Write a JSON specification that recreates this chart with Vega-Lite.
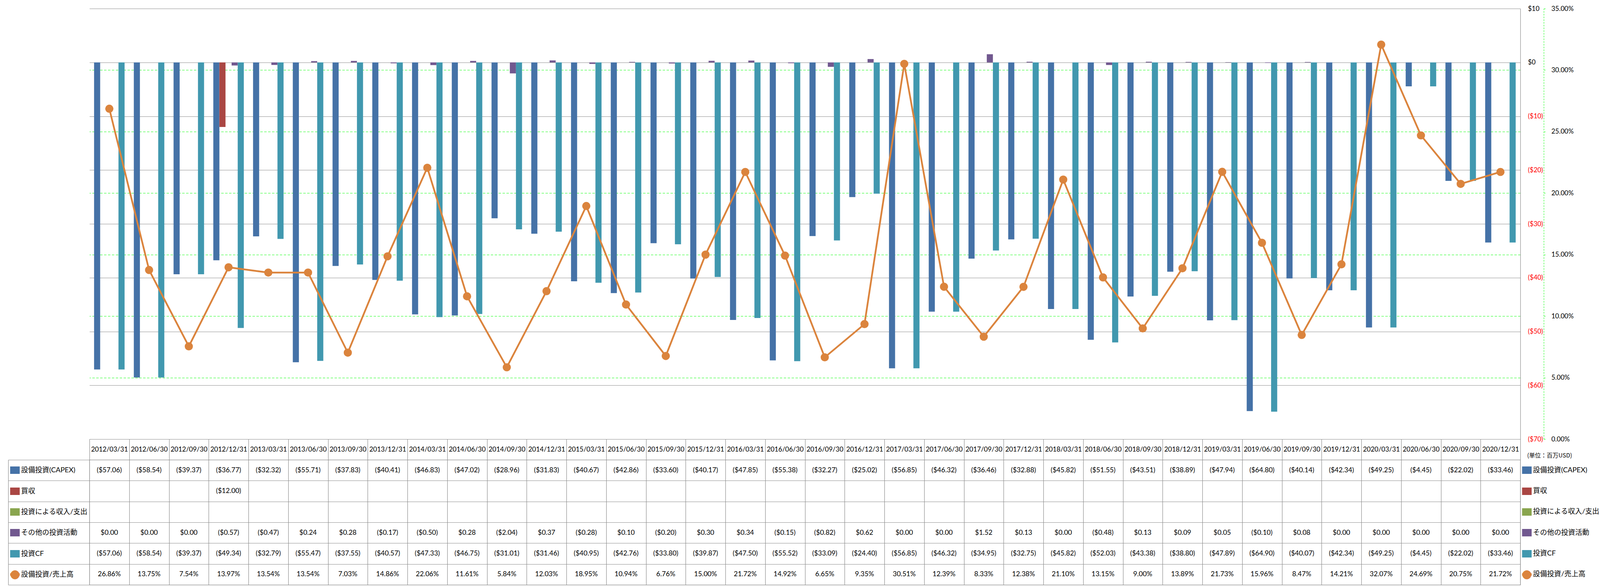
{
  "$schema": "https://vega.github.io/schema/vega-lite/v6.json",
  "background": "white",
  "padding": {"left": 15, "top": 13, "right": 4, "bottom": 2},
  "bounds": "flush",
  "spacing": 53,
  "config": {"view": {"stroke": null}, "font": "Lato"},
  "datasets": {
    "cf": [
      {"date":"2012/03/31","series":"設備投資(CAPEX)","value":-57.06},
      {"date":"2012/06/30","series":"設備投資(CAPEX)","value":-58.54},
      {"date":"2012/09/30","series":"設備投資(CAPEX)","value":-39.37},
      {"date":"2012/12/31","series":"設備投資(CAPEX)","value":-36.77},
      {"date":"2013/03/31","series":"設備投資(CAPEX)","value":-32.32},
      {"date":"2013/06/30","series":"設備投資(CAPEX)","value":-55.71},
      {"date":"2013/09/30","series":"設備投資(CAPEX)","value":-37.83},
      {"date":"2013/12/31","series":"設備投資(CAPEX)","value":-40.41},
      {"date":"2014/03/31","series":"設備投資(CAPEX)","value":-46.83},
      {"date":"2014/06/30","series":"設備投資(CAPEX)","value":-47.02},
      {"date":"2014/09/30","series":"設備投資(CAPEX)","value":-28.96},
      {"date":"2014/12/31","series":"設備投資(CAPEX)","value":-31.83},
      {"date":"2015/03/31","series":"設備投資(CAPEX)","value":-40.67},
      {"date":"2015/06/30","series":"設備投資(CAPEX)","value":-42.86},
      {"date":"2015/09/30","series":"設備投資(CAPEX)","value":-33.60},
      {"date":"2015/12/31","series":"設備投資(CAPEX)","value":-40.17},
      {"date":"2016/03/31","series":"設備投資(CAPEX)","value":-47.85},
      {"date":"2016/06/30","series":"設備投資(CAPEX)","value":-55.38},
      {"date":"2016/09/30","series":"設備投資(CAPEX)","value":-32.27},
      {"date":"2016/12/31","series":"設備投資(CAPEX)","value":-25.02},
      {"date":"2017/03/31","series":"設備投資(CAPEX)","value":-56.85},
      {"date":"2017/06/30","series":"設備投資(CAPEX)","value":-46.32},
      {"date":"2017/09/30","series":"設備投資(CAPEX)","value":-36.46},
      {"date":"2017/12/31","series":"設備投資(CAPEX)","value":-32.88},
      {"date":"2018/03/31","series":"設備投資(CAPEX)","value":-45.82},
      {"date":"2018/06/30","series":"設備投資(CAPEX)","value":-51.55},
      {"date":"2018/09/30","series":"設備投資(CAPEX)","value":-43.51},
      {"date":"2018/12/31","series":"設備投資(CAPEX)","value":-38.89},
      {"date":"2019/03/31","series":"設備投資(CAPEX)","value":-47.94},
      {"date":"2019/06/30","series":"設備投資(CAPEX)","value":-64.80},
      {"date":"2019/09/30","series":"設備投資(CAPEX)","value":-40.14},
      {"date":"2019/12/31","series":"設備投資(CAPEX)","value":-42.34},
      {"date":"2020/03/31","series":"設備投資(CAPEX)","value":-49.25},
      {"date":"2020/06/30","series":"設備投資(CAPEX)","value":-4.45},
      {"date":"2020/09/30","series":"設備投資(CAPEX)","value":-22.02},
      {"date":"2020/12/31","series":"設備投資(CAPEX)","value":-33.46},
      {"date":"2012/12/31","series":"買収","value":-12.00},
      {"date":"2012/03/31","series":"その他の投資活動","value":0},
      {"date":"2012/06/30","series":"その他の投資活動","value":0},
      {"date":"2012/09/30","series":"その他の投資活動","value":0},
      {"date":"2012/12/31","series":"その他の投資活動","value":-0.57},
      {"date":"2013/03/31","series":"その他の投資活動","value":-0.47},
      {"date":"2013/06/30","series":"その他の投資活動","value":0.24},
      {"date":"2013/09/30","series":"その他の投資活動","value":0.28},
      {"date":"2013/12/31","series":"その他の投資活動","value":-0.17},
      {"date":"2014/03/31","series":"その他の投資活動","value":-0.50},
      {"date":"2014/06/30","series":"その他の投資活動","value":0.28},
      {"date":"2014/09/30","series":"その他の投資活動","value":-2.04},
      {"date":"2014/12/31","series":"その他の投資活動","value":0.37},
      {"date":"2015/03/31","series":"その他の投資活動","value":-0.28},
      {"date":"2015/06/30","series":"その他の投資活動","value":0.10},
      {"date":"2015/09/30","series":"その他の投資活動","value":-0.20},
      {"date":"2015/12/31","series":"その他の投資活動","value":0.30},
      {"date":"2016/03/31","series":"その他の投資活動","value":0.34},
      {"date":"2016/06/30","series":"その他の投資活動","value":-0.15},
      {"date":"2016/09/30","series":"その他の投資活動","value":-0.82},
      {"date":"2016/12/31","series":"その他の投資活動","value":0.62},
      {"date":"2017/03/31","series":"その他の投資活動","value":0},
      {"date":"2017/06/30","series":"その他の投資活動","value":0},
      {"date":"2017/09/30","series":"その他の投資活動","value":1.52},
      {"date":"2017/12/31","series":"その他の投資活動","value":0.13},
      {"date":"2018/03/31","series":"その他の投資活動","value":0},
      {"date":"2018/06/30","series":"その他の投資活動","value":-0.48},
      {"date":"2018/09/30","series":"その他の投資活動","value":0.13},
      {"date":"2018/12/31","series":"その他の投資活動","value":0.09},
      {"date":"2019/03/31","series":"その他の投資活動","value":0.05},
      {"date":"2019/06/30","series":"その他の投資活動","value":-0.10},
      {"date":"2019/09/30","series":"その他の投資活動","value":0.08},
      {"date":"2019/12/31","series":"その他の投資活動","value":0},
      {"date":"2020/03/31","series":"その他の投資活動","value":0},
      {"date":"2020/06/30","series":"その他の投資活動","value":0},
      {"date":"2020/09/30","series":"その他の投資活動","value":0},
      {"date":"2020/12/31","series":"その他の投資活動","value":0},
      {"date":"2012/03/31","series":"投資CF","value":-57.06},
      {"date":"2012/06/30","series":"投資CF","value":-58.54},
      {"date":"2012/09/30","series":"投資CF","value":-39.37},
      {"date":"2012/12/31","series":"投資CF","value":-49.34},
      {"date":"2013/03/31","series":"投資CF","value":-32.79},
      {"date":"2013/06/30","series":"投資CF","value":-55.47},
      {"date":"2013/09/30","series":"投資CF","value":-37.55},
      {"date":"2013/12/31","series":"投資CF","value":-40.57},
      {"date":"2014/03/31","series":"投資CF","value":-47.33},
      {"date":"2014/06/30","series":"投資CF","value":-46.75},
      {"date":"2014/09/30","series":"投資CF","value":-31.01},
      {"date":"2014/12/31","series":"投資CF","value":-31.46},
      {"date":"2015/03/31","series":"投資CF","value":-40.95},
      {"date":"2015/06/30","series":"投資CF","value":-42.76},
      {"date":"2015/09/30","series":"投資CF","value":-33.80},
      {"date":"2015/12/31","series":"投資CF","value":-39.87},
      {"date":"2016/03/31","series":"投資CF","value":-47.50},
      {"date":"2016/06/30","series":"投資CF","value":-55.52},
      {"date":"2016/09/30","series":"投資CF","value":-33.09},
      {"date":"2016/12/31","series":"投資CF","value":-24.40},
      {"date":"2017/03/31","series":"投資CF","value":-56.85},
      {"date":"2017/06/30","series":"投資CF","value":-46.32},
      {"date":"2017/09/30","series":"投資CF","value":-34.95},
      {"date":"2017/12/31","series":"投資CF","value":-32.75},
      {"date":"2018/03/31","series":"投資CF","value":-45.82},
      {"date":"2018/06/30","series":"投資CF","value":-52.03},
      {"date":"2018/09/30","series":"投資CF","value":-43.38},
      {"date":"2018/12/31","series":"投資CF","value":-38.80},
      {"date":"2019/03/31","series":"投資CF","value":-47.89},
      {"date":"2019/06/30","series":"投資CF","value":-64.90},
      {"date":"2019/09/30","series":"投資CF","value":-40.07},
      {"date":"2019/12/31","series":"投資CF","value":-42.34},
      {"date":"2020/03/31","series":"投資CF","value":-49.25},
      {"date":"2020/06/30","series":"投資CF","value":-4.45},
      {"date":"2020/09/30","series":"投資CF","value":-22.02},
      {"date":"2020/12/31","series":"投資CF","value":-33.46}
    ],
    "ratio": [
      {"date":"2012/03/31","ratio":0.2686},{"date":"2012/06/30","ratio":0.1375},{"date":"2012/09/30","ratio":0.0754},{"date":"2012/12/31","ratio":0.1397},
      {"date":"2013/03/31","ratio":0.1354},{"date":"2013/06/30","ratio":0.1354},{"date":"2013/09/30","ratio":0.0703},{"date":"2013/12/31","ratio":0.1486},
      {"date":"2014/03/31","ratio":0.2206},{"date":"2014/06/30","ratio":0.1161},{"date":"2014/09/30","ratio":0.0584},{"date":"2014/12/31","ratio":0.1203},
      {"date":"2015/03/31","ratio":0.1895},{"date":"2015/06/30","ratio":0.1094},{"date":"2015/09/30","ratio":0.0676},{"date":"2015/12/31","ratio":0.1500},
      {"date":"2016/03/31","ratio":0.2172},{"date":"2016/06/30","ratio":0.1492},{"date":"2016/09/30","ratio":0.0665},{"date":"2016/12/31","ratio":0.0935},
      {"date":"2017/03/31","ratio":0.3051},{"date":"2017/06/30","ratio":0.1239},{"date":"2017/09/30","ratio":0.0833},{"date":"2017/12/31","ratio":0.1238},
      {"date":"2018/03/31","ratio":0.2110},{"date":"2018/06/30","ratio":0.1315},{"date":"2018/09/30","ratio":0.0900},{"date":"2018/12/31","ratio":0.1389},
      {"date":"2019/03/31","ratio":0.2173},{"date":"2019/06/30","ratio":0.1596},{"date":"2019/09/30","ratio":0.0847},{"date":"2019/12/31","ratio":0.1421},
      {"date":"2020/03/31","ratio":0.3207},{"date":"2020/06/30","ratio":0.2469},{"date":"2020/09/30","ratio":0.2075},{"date":"2020/12/31","ratio":0.2172}
    ]
  },
  "vconcat": [
    {
      "width": 3663,
      "height": 1102,
      "encoding": {
        "x": {
          "field": "date", "type": "nominal",
          "scale": {"type": "band", "paddingInner": 0, "paddingOuter": 0},
          "axis": {
            "orient": "bottom",
            "title": "(単位：百万USD)",
            "titleX": 3680, "titleY": 41,
            "titleAlign": "left", "titleBaseline": "middle", "titleAngle": 0,
            "titleFont": "Noto Sans CJK JP", "titleFontSize": 15, "titleFontWeight": "normal", "titleColor": "#000000",
            "labelAngle": 0, "labelFont": "Lato", "labelFontSize": 17, "labelColor": "#000000",
            "labelBaseline": "middle", "labelPadding": -26.5,
            "labelOverlap": false, "labelBound": false, "labelFlush": false,
            "ticks": true, "tickBand": "extent", "tickSize": 53.3, "tickColor": "#8e8e8e", "tickWidth": 1.2,
            "domain": true, "domainColor": "#8e8e8e", "domainWidth": 1.2,
            "grid": false
          }
        }
      },
      "layer": [
        {
          "data": {"name": "cf"},
          "mark": {"type": "bar"},
          "encoding": {
            "xOffset": {
              "field": "series", "type": "nominal",
              "scale": {"domain": ["設備投資(CAPEX)", "買収", "投資による収入/支出", "その他の投資活動", "投資CF"], "paddingInner": 0, "paddingOuter": 0.757}
            },
            "y": {
              "field": "value", "type": "quantitative",
              "scale": {"domain": [-70, 10], "nice": false, "zero": false},
              "axis": {
                "orient": "right", "title": null,
                "values": [-70, -60, -50, -40, -30, -20, -10, 0, 10],
                "format": "($.0f",
                "labelColor": {"condition": {"test": "datum.value < 0", "value": "#FF0000"}, "value": "#000000"},
                "labelFont": "Lato", "labelFontSize": 17, "labelAlign": "left", "labelBaseline": "middle", "labelPadding": 19,
                "labelOverlap": false, "labelBound": false, "labelFlush": false,
                "ticks": false,
                "domain": true, "domainColor": "#8e8e8e", "domainWidth": 1.2,
                "grid": true, "gridColor": "#8e8e8e", "gridWidth": 1.2
              }
            },
            "color": {
              "field": "series", "type": "nominal",
              "scale": {"domain": ["設備投資(CAPEX)", "買収", "投資による収入/支出", "その他の投資活動", "投資CF"], "range": ["#4572A7", "#AA4643", "#89A54E", "#71588F", "#4198AF"]},
              "legend": null
            }
          }
        },
        {
          "data": {"name": "ratio"},
          "mark": {"type": "line", "color": "#DB843D", "strokeWidth": 4.5, "point": {"filled": true, "size": 440, "color": "#DB843D", "opacity": 1}},
          "encoding": {
            "y": {
              "field": "ratio", "type": "quantitative",
              "scale": {"domain": [0, 0.35], "nice": false, "zero": false},
              "axis": {
                "orient": "right", "offset": 60, "title": null,
                "values": [0, 0.05, 0.1, 0.15, 0.2, 0.25, 0.3, 0.35],
                "format": ".2%",
                "labelFont": "Lato", "labelFontSize": 17, "labelColor": "#000000", "labelAlign": "left", "labelBaseline": "middle", "labelPadding": 13,
                "labelOverlap": false, "labelBound": false, "labelFlush": false,
                "ticks": true, "tickSize": 6, "tickColor": "#00FF00", "tickDash": [4, 3], "tickWidth": 1,
                "domain": true, "domainColor": "#00FF00", "domainDash": [4, 3], "domainWidth": 1,
                "grid": true, "gridColor": "#00FF00", "gridDash": [6, 4], "gridWidth": 1,
                "gridOpacity": {"condition": {"test": "datum.value > 0.34 || datum.value < 0.01", "value": 0}, "value": 1}
              }
            }
          }
        }
      ],
      "resolve": {"scale": {"y": "independent"}}
    },
    {
      "width": 3663,
      "height": 320,
      "view": {"stroke": "#8e8e8e", "strokeWidth": 1.2},
      "encoding": {
        "x": {
          "field": "date", "type": "nominal",
          "scale": {"type": "band", "paddingInner": 0, "paddingOuter": 0},
          "axis": {"orient": "top", "title": null, "labels": false, "ticks": false, "domain": false, "grid": true, "tickBand": "extent", "gridColor": "#8e8e8e", "gridWidth": 1.2}
        }
      },
      "layer": [
        {
          "data": {"name": "cf"},
          "mark": {"type": "text", "font": "Lato", "fontSize": 17.5, "color": "#000000", "align": "center", "baseline": "middle"},
          "encoding": {
            "y": {
              "field": "series", "type": "nominal",
              "scale": {"type": "band", "domain": ["設備投資(CAPEX)", "買収", "投資による収入/支出", "その他の投資活動", "投資CF", "設備投資/売上高"], "paddingInner": 0, "paddingOuter": 0},
              "axis": {
                "orient": "left", "title": null,
                "ticks": true, "tickBand": "extent", "tickSize": 208, "tickColor": "#8e8e8e", "tickWidth": 1.2,
                "domain": false,
                "grid": true, "gridColor": "#8e8e8e", "gridWidth": 1.2,
                "labelAlign": "left", "labelBaseline": "middle", "labelPadding": -32.5,
                "labelFont": "Lato, Noto Sans CJK JP", "labelFontSize": 18, "labelColor": "#000000", "labelLimit": 1000,
                "labelOverlap": false, "labelBound": false, "labelFlush": false
              }
            },
            "text": {"field": "value", "type": "quantitative", "format": "($.2f"}
          }
        },
        {
          "data": {"name": "ratio"},
          "mark": {"type": "text", "font": "Lato", "fontSize": 17.5, "color": "#000000", "align": "center", "baseline": "middle"},
          "encoding": {
            "y": {
              "datum": "設備投資/売上高", "type": "nominal",
              "axis": {
                "orient": "left", "offset": 179, "title": null,
                "domain": false, "grid": false,
                "ticks": true, "tickSize": 24.5,
                "tickWidth": {"condition": {"test": "datum.value == '設備投資/売上高'", "value": 6}, "value": 19},
                "tickColor": {"condition": [
                  {"test": "datum.value == '設備投資(CAPEX)'", "value": "#4572A7"},
                  {"test": "datum.value == '買収'", "value": "#AA4643"},
                  {"test": "datum.value == '投資による収入/支出'", "value": "#89A54E"},
                  {"test": "datum.value == 'その他の投資活動'", "value": "#71588F"},
                  {"test": "datum.value == '投資CF'", "value": "#4198AF"}
                ], "value": "#DB843D"},
                "labelExpr": "datum.value == '設備投資/売上高' ? '●' : ''",
                "labelFont": "DejaVu Sans", "labelFontSize": 30, "labelColor": "#DB843D",
                "labelAlign": "center", "labelBaseline": "middle", "labelPadding": -12.3,
                "labelOverlap": false, "labelBound": false, "labelFlush": false
              }
            },
            "text": {"field": "ratio", "type": "quantitative", "format": ".2%"}
          }
        },
        {
          "data": {"name": "ratio"},
          "mark": {"type": "text", "text": ""},
          "encoding": {
            "y": {
              "datum": "設備投資/売上高", "type": "nominal",
              "axis": {
                "orient": "right", "title": null,
                "ticks": false, "tickSize": 0, "domain": false, "grid": false,
                "labelAlign": "left", "labelBaseline": "middle", "labelPadding": 32,
                "labelFont": "Lato, Noto Sans CJK JP", "labelFontSize": 18, "labelColor": "#000000", "labelLimit": 1000,
                "labelOverlap": false, "labelBound": false, "labelFlush": false
              }
            }
          }
        },
        {
          "data": {"name": "ratio"},
          "mark": {"type": "text", "text": ""},
          "encoding": {
            "y": {
              "datum": "設備投資/売上高", "type": "nominal",
              "axis": {
                "orient": "right", "offset": 4, "title": null,
                "domain": false, "grid": false,
                "ticks": true, "tickSize": 24.5,
                "tickWidth": {"condition": {"test": "datum.value == '設備投資/売上高'", "value": 6}, "value": 19},
                "tickColor": {"condition": [
                  {"test": "datum.value == '設備投資(CAPEX)'", "value": "#4572A7"},
                  {"test": "datum.value == '買収'", "value": "#AA4643"},
                  {"test": "datum.value == '投資による収入/支出'", "value": "#89A54E"},
                  {"test": "datum.value == 'その他の投資活動'", "value": "#71588F"},
                  {"test": "datum.value == '投資CF'", "value": "#4198AF"}
                ], "value": "#DB843D"},
                "labelExpr": "datum.value == '設備投資/売上高' ? '●' : ''",
                "labelFont": "DejaVu Sans", "labelFontSize": 30, "labelColor": "#DB843D",
                "labelAlign": "center", "labelBaseline": "middle", "labelPadding": -12.5,
                "labelOverlap": false, "labelBound": false, "labelFlush": false
              }
            }
          }
        },
        {
          "data": {"name": "ratio"},
          "mark": {"type": "text", "text": ""},
          "encoding": {
            "y": {
              "datum": "設備投資/売上高", "type": "nominal",
              "axis": {
                "orient": "left", "offset": 208, "title": null,
                "domain": true, "domainColor": "#8e8e8e", "domainWidth": 1.2,
                "ticks": false, "labels": false, "grid": false
              }
            }
          }
        }
      ],
      "resolve": {"axis": {"y": "independent"}}
    }
  ]
}
